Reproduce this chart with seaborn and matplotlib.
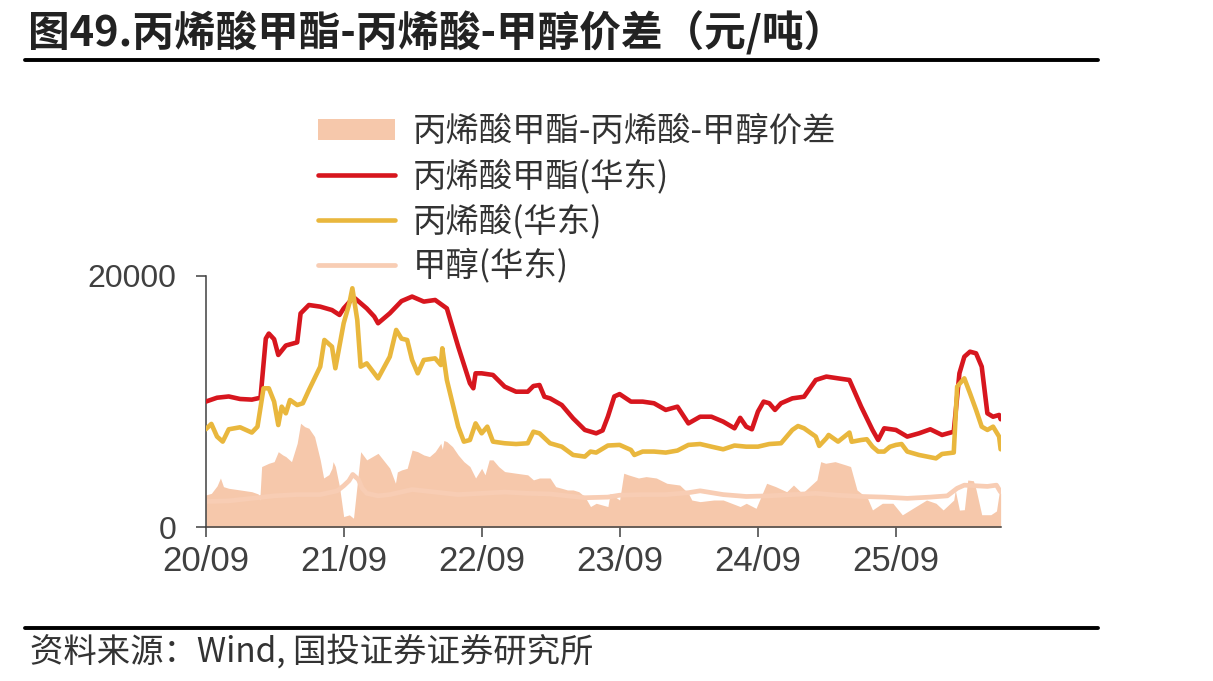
import pandas as pd
import numpy as np
import matplotlib
matplotlib.use("Agg")
import matplotlib.pyplot as plt
import matplotlib.dates as mdates
from matplotlib.patches import Patch
from matplotlib.lines import Line2D
import seaborn as sns

# 丙烯酸甲酯(华东)
ma_dates = ["2020-09-01", "2020-10-01", "2020-11-01", "2020-12-01", "2021-01-01", "2021-01-24",
            "2021-02-07", "2021-02-15", "2021-03-01", "2021-03-12", "2021-04-01", "2021-05-01",
            "2021-05-10", "2021-06-01", "2021-07-01", "2021-08-01", "2021-08-21", "2021-09-01",
            "2021-09-21", "2021-10-01", "2021-11-01", "2021-11-21", "2021-12-01", "2022-01-01",
            "2022-02-01", "2022-03-01", "2022-04-01", "2022-05-01", "2022-06-01", "2022-07-01",
            "2022-08-01", "2022-08-10", "2022-08-16", "2022-09-01", "2022-10-01", "2022-11-01",
            "2022-12-01", "2023-01-01", "2023-01-16", "2023-02-01", "2023-02-14", "2023-03-01",
            "2023-04-01", "2023-05-01", "2023-06-01", "2023-07-01", "2023-07-18", "2023-08-01",
            "2023-08-18", "2023-09-01", "2023-10-01", "2023-11-01", "2023-12-01", "2024-01-01",
            "2024-02-01", "2024-03-01", "2024-04-01", "2024-05-01", "2024-06-01", "2024-07-01",
            "2024-07-16", "2024-08-01", "2024-08-16", "2024-09-01", "2024-09-16", "2024-10-01",
            "2024-10-16", "2024-11-01", "2024-12-01", "2025-01-01", "2025-02-01", "2025-03-01",
            "2025-04-01", "2025-05-01", "2025-06-01", "2025-07-01", "2025-07-16", "2025-08-01",
            "2025-09-01", "2025-10-01", "2025-11-01", "2025-12-01", "2026-01-01", "2026-02-01",
            "2026-02-16", "2026-03-01", "2026-03-16", "2026-04-01", "2026-04-16", "2026-05-01",
            "2026-05-16", "2026-06-01", "2026-06-05"]
ma_values = [9990, 10300, 10400, 10200, 10150, 10300,
             15000, 15400, 14950, 13700, 14450, 14700,
             17000, 17670, 17540, 17270, 16880, 17400,
             18070, 18200, 17400, 16750, 16220, 17010,
             17980, 18340, 17940, 18070, 17400, 14360,
             11450, 11050, 12240, 12240, 12110, 11180,
             10780, 10780, 11230, 11310, 10380, 10250,
             9720, 8660, 7740, 7470, 7700, 8800,
             10400, 10590, 9990, 9990, 9860, 9330,
             9590, 8260, 8790, 8790, 8400, 7870,
             8700, 8000, 7790, 9200, 9990, 9860,
             9330, 9860, 10250, 10380, 11710, 11980,
             11840, 11710, 9590, 7740, 6940, 7870,
             7740, 7210, 7470, 7790, 7340, 7600,
             12240, 13560, 13960, 13830, 12770, 9060,
             8790, 8930, 8590]

# 丙烯酸(华东)
aa_dates = ["2020-09-01", "2020-09-16", "2020-10-01", "2020-10-16", "2020-11-01", "2020-12-01",
            "2021-01-01", "2021-01-16", "2021-02-01", "2021-02-15", "2021-03-01", "2021-03-12",
            "2021-03-21", "2021-04-01", "2021-04-12", "2021-05-01", "2021-05-16", "2021-06-01",
            "2021-07-01", "2021-07-12", "2021-08-01", "2021-08-10", "2021-09-01", "2021-09-16",
            "2021-09-24", "2021-10-07", "2021-10-16", "2021-11-01", "2021-11-21", "2021-12-01",
            "2022-01-01", "2022-01-18", "2022-02-01", "2022-02-16", "2022-03-01", "2022-03-16",
            "2022-04-01", "2022-05-01", "2022-05-16", "2022-05-20", "2022-06-01", "2022-07-01",
            "2022-07-16", "2022-08-01", "2022-08-16", "2022-09-01", "2022-09-16", "2022-10-01",
            "2022-11-01", "2022-12-01", "2023-01-01", "2023-01-16", "2023-02-01", "2023-03-01",
            "2023-04-01", "2023-05-01", "2023-06-01", "2023-06-16", "2023-07-01", "2023-08-01",
            "2023-09-01", "2023-10-01", "2023-10-10", "2023-11-01", "2023-12-01", "2024-01-01",
            "2024-02-01", "2024-03-01", "2024-04-01", "2024-05-01", "2024-06-01", "2024-07-01",
            "2024-08-01", "2024-09-01", "2024-10-01", "2024-11-01", "2024-12-01", "2024-12-16",
            "2025-01-01", "2025-02-01", "2025-02-10", "2025-03-01", "2025-03-07", "2025-04-01",
            "2025-05-01", "2025-05-07", "2025-06-01", "2025-06-16", "2025-07-01", "2025-07-16",
            "2025-08-01", "2025-08-16", "2025-09-01", "2025-09-16", "2025-10-01", "2025-11-01",
            "2025-12-01", "2025-12-16", "2026-01-01", "2026-02-01", "2026-02-10", "2026-03-01",
            "2026-03-16", "2026-04-01", "2026-04-16", "2026-05-01", "2026-05-16", "2026-06-01",
            "2026-06-05"]
aa_values = [7790, 8220, 7210, 6810, 7790, 7950,
             7530, 8000, 11050, 11050, 9990, 8130,
             9590, 9060, 10120, 9720, 9860, 10910,
             12770, 14890, 14360, 12640, 16220, 17800,
             19000, 16480, 12770, 13030, 12240, 11840,
             13560, 15690, 15000, 14890, 13300, 12240,
             13300, 13430, 12900, 14230, 11710, 8000,
             6810, 6940, 8260, 7470, 8000, 6810,
             6680, 6620, 6680, 7600, 7470, 6680,
             6410, 5750, 5620, 6020, 5940, 6500,
             6550, 6150, 5750, 6020, 6020, 5940,
             6100, 6550, 6620, 6410, 6200, 6500,
             6410, 6410, 6620, 6680, 7740, 8050,
             7870, 7210, 6470, 7080, 7340, 6810,
             7530, 6800, 6940, 7000, 6410, 6020,
             6020, 6400, 6550, 6620, 6020, 5750,
             5570, 5480, 5830, 5940, 11180, 11840,
             10650, 9330, 8000, 7740, 8000, 7210,
             6200]

# 甲醇(华东)
meoh_dates = ["2020-09-01", "2020-11-01", "2021-01-01", "2021-03-01", "2021-05-01", "2021-07-01",
              "2021-08-15", "2021-09-01", "2021-09-15", "2021-09-25", "2021-10-10", "2021-10-20",
              "2021-11-01", "2021-12-01", "2022-01-01", "2022-03-01", "2022-05-01", "2022-07-01",
              "2022-09-01", "2022-11-01", "2023-01-01", "2023-03-01", "2023-05-01", "2023-06-01",
              "2023-08-01", "2023-09-01", "2023-11-01", "2024-01-01", "2024-03-01", "2024-04-01",
              "2024-06-01", "2024-08-01", "2024-10-01", "2024-12-01", "2025-02-01", "2025-04-01",
              "2025-06-01", "2025-08-01", "2025-10-01", "2025-12-01", "2026-01-15", "2026-02-10",
              "2026-03-01", "2026-04-01", "2026-05-01", "2026-05-25", "2026-06-05"]
meoh_values = [2050, 2100, 2300, 2500, 2600, 2600,
               2900, 3300, 3700, 4200, 3800, 3100,
               2700, 2500, 2600, 3000, 2800, 2600,
               2700, 2800, 2700, 2650, 2450, 2350,
               2400, 2550, 2600, 2600, 2750, 2900,
               2600, 2450, 2500, 2600, 2700, 2550,
               2450, 2400, 2300, 2400, 2500, 3100,
               3350, 3300, 3250, 3350, 2800]

# 丙烯酸甲酯-丙烯酸-甲醇价差
spread_dates = ["2020-09-01", "2020-09-16", "2020-10-01", "2020-10-10", "2020-10-18", "2020-11-01",
                "2020-12-01", "2021-01-01", "2021-01-18", "2021-01-22", "2021-01-27", "2021-02-15",
                "2021-03-01", "2021-03-12", "2021-03-24", "2021-04-01", "2021-04-16", "2021-05-01",
                "2021-05-10", "2021-05-21", "2021-06-01", "2021-06-16", "2021-07-01", "2021-07-10",
                "2021-07-24", "2021-08-01", "2021-08-04", "2021-08-10", "2021-08-21", "2021-09-01",
                "2021-09-16", "2021-09-27", "2021-10-07", "2021-10-16", "2021-11-01", "2021-11-16",
                "2021-12-01", "2022-01-01", "2022-01-16", "2022-01-21", "2022-02-01", "2022-02-16",
                "2022-03-01", "2022-03-16", "2022-04-01", "2022-04-16", "2022-05-01", "2022-05-16",
                "2022-05-20", "2022-05-24", "2022-06-01", "2022-06-16", "2022-07-01", "2022-07-16",
                "2022-08-01", "2022-08-16", "2022-09-01", "2022-09-10", "2022-09-21", "2022-10-01",
                "2022-10-16", "2022-11-01", "2022-12-01", "2023-01-01", "2023-01-16", "2023-02-01",
                "2023-03-01", "2023-03-16", "2023-04-01", "2023-04-16", "2023-05-01", "2023-05-16",
                "2023-06-01", "2023-06-16", "2023-07-01", "2023-08-01", "2023-08-07", "2023-09-01",
                "2023-09-12", "2023-09-24", "2023-10-21", "2023-11-10", "2023-12-07", "2024-01-04",
                "2024-02-07", "2024-03-01", "2024-03-10", "2024-04-01", "2024-05-07", "2024-06-01",
                "2024-07-16", "2024-08-01", "2024-08-27", "2024-09-24", "2024-10-18", "2024-11-16",
                "2024-12-04", "2024-12-27", "2025-02-04", "2025-02-14", "2025-02-27", "2025-03-24",
                "2025-04-21", "2025-05-04", "2025-05-21", "2025-06-18", "2025-07-01", "2025-07-27",
                "2025-08-24", "2025-09-18", "2025-10-16", "2025-11-21", "2025-12-16", "2026-01-04",
                "2026-02-01", "2026-02-05", "2026-02-16", "2026-03-01", "2026-03-10", "2026-03-25",
                "2026-04-01", "2026-04-16", "2026-05-10", "2026-05-25", "2026-06-01", "2026-06-05"]
spread_values = [2570, 2700, 3290, 3920, 3230, 3100,
                 2970, 2830, 2650, 2170, 4830, 5090,
                 5220, 6010, 5750, 5620, 5220, 6680,
                 8270, 8000, 7870, 7210, 5360, 3920,
                 4190, 4690, 5220, 4830, 3230, 850,
                 990, 720, 3500, 6010, 5360, 5620,
                 5880, 4700, 3500, 4400, 4560, 4690,
                 6140, 6010, 5750, 5620, 6010, 6680,
                 6200, 6900, 6810, 6410, 5750, 5220,
                 4830, 3920, 4690, 4170, 5360, 5360,
                 4830, 4430, 4300, 4170, 3770, 3920,
                 3920, 3230, 3100, 2970, 2970, 2830,
                 2440, 1650, 1910, 1650, 2700, 2170,
                 4300, 4170, 3920, 4030, 3920, 3500,
                 3360, 2700, 2170, 2040, 2170, 2170,
                 1650, 1910, 1510, 3500, 3230, 2830,
                 3360, 2700, 3770, 5220, 5090, 5220,
                 4960, 4830, 2970, 2300, 1380, 1910,
                 1910, 990, 1510, 2170, 1910, 1380,
                 2170, 2960, 1370, 1400, 3760, 3700,
                 3000, 1000, 1000, 1300, 2700, 2700]

x_ticks = ["2020-09-01", "2021-09-01", "2022-09-01", "2023-09-01", "2024-09-01", "2025-09-01"]

red = "#D7161E"
yellow = "#E9B73D"
fill_c = "#F6C8AB"
meoh_c = "#F8CDB4"
cjk = ["Noto Sans CJK SC", "DejaVu Sans"]

df_ma = pd.DataFrame({"date": pd.to_datetime(ma_dates), "value": ma_values})
df_aa = pd.DataFrame({"date": pd.to_datetime(aa_dates), "value": aa_values})
df_meoh = pd.DataFrame({"date": pd.to_datetime(meoh_dates), "value": meoh_values})
df_spread = pd.DataFrame({"date": pd.to_datetime(spread_dates), "value": spread_values})

sns.set_theme(style="white")
plt.rcParams['font.family'] = ["Liberation Sans", "Noto Sans CJK SC", "DejaVu Sans"]

fig = plt.figure(figsize=(12.13, 6.81), dpi=100)
ax = fig.add_axes([205.7 / 1213, 1 - 527.3 / 681, (1001 - 205.7) / 1213, (527.3 - 275.7) / 681])

ax.fill_between(df_spread["date"], 0, df_spread["value"], color=fill_c, lw=0, zorder=1)
sns.lineplot(data=df_meoh, x="date", y="value", color=meoh_c, lw=3.4, ax=ax, zorder=2)
sns.lineplot(data=df_ma, x="date", y="value", color=red, lw=3.3, ax=ax, zorder=3)
sns.lineplot(data=df_aa, x="date", y="value", color=yellow, lw=3.3, ax=ax, zorder=4)

ax.set_xlim(pd.Timestamp("2020-09-01"), pd.Timestamp("2026-06-06"))
ax.set_ylim(0, 20000)
ax.set_yticks([0, 20000])
ax.set_xticks(pd.to_datetime(x_ticks))
ax.xaxis.set_major_formatter(mdates.DateFormatter("%y/%m"))
ax.set_xlabel("")
ax.set_ylabel("")

for s in ["top", "right"]:
    ax.spines[s].set_visible(False)
for s in ["left", "bottom"]:
    ax.spines[s].set_color("#404040")
    ax.spines[s].set_linewidth(1.1)
ax.tick_params(axis="y", direction="out", length=7, width=1.1, color="#404040",
               labelsize=23, labelcolor="#404040", pad=14, left=True)
ax.tick_params(axis="x", direction="out", length=7, width=1.1, color="#404040",
               labelsize=25, labelcolor="#404040", pad=6, bottom=True)

handles = [Patch(facecolor=fill_c, edgecolor="none"),
           Line2D([0], [0], color=red, lw=3.3),
           Line2D([0], [0], color=yellow, lw=3.3),
           Line2D([0], [0], color=meoh_c, lw=3.4)]
labels = ["丙烯酸甲酯-丙烯酸-甲醇价差", "丙烯酸甲酯(华东)", "丙烯酸(华东)", "甲醇(华东)"]
fig.legend(handles, labels, loc="upper left", bbox_to_anchor=(318 / 1213, 1 - 114 / 681),
           frameon=False, prop={"family": cjk, "size": 24}, labelcolor="#333333",
           handlelength=2.3, handleheight=0.6, handletextpad=0.55, labelspacing=0.3,
           borderaxespad=0, borderpad=0)

fig.text(28 / 1213, 1 - 33 / 681, "图49.丙烯酸甲酯-丙烯酸-甲醇价差（元/吨）", family=cjk,
         fontsize=30, fontweight="bold", color="#222222", va="center", ha="left")
fig.add_artist(Line2D([25 / 1213, 1098 / 1213], [1 - 60 / 681, 1 - 60 / 681],
                      color="black", lw=2.8, transform=fig.transFigure))
fig.add_artist(Line2D([25 / 1213, 1098 / 1213], [1 - 628 / 681, 1 - 628 / 681],
                      color="black", lw=2.8, transform=fig.transFigure))
fig.text(30 / 1213, 1 - 652 / 681, "资料来源：Wind, 国投证券证券研究所", family=cjk,
         fontsize=24, style="italic", color="#333333", va="center", ha="left")

fig.savefig("out.png", dpi=100)
